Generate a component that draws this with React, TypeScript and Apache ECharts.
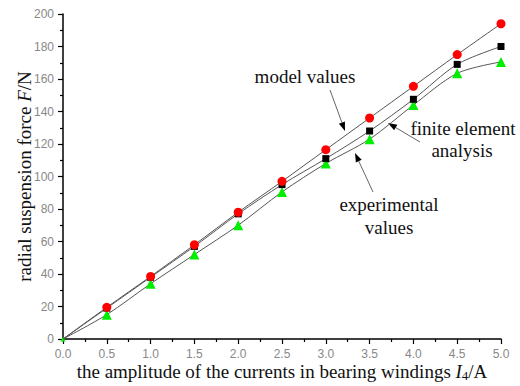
import React, { useEffect, useRef } from "react";
import * as echarts from "echarts";

const currents = [0, 0.5, 1.0, 1.5, 2.0, 2.5, 3.0, 3.5, 4.0, 4.5, 5.0];
const modelValues = [0, 19.5, 38.5, 58, 78, 97, 116.5, 136, 155.5, 175, 194];
const feaValues = [0, 19, 38, 57, 77, 95, 111, 128, 147.5, 169, 180];
const experimentalValues = [0, 15, 34, 52, 70, 90.5, 108, 123, 144, 163.5, 170.5];

const serif = "'Liberation Serif', 'Times New Roman', serif";
const sans = "'Liberation Sans', Arial, sans-serif";

function arrow(x1: number, y1: number, x2: number, y2: number) {
  const dx = x2 - x1, dy = y2 - y1;
  const len = Math.sqrt(dx * dx + dy * dy);
  const ux = dx / len, uy = dy / len;
  const L = 9, w = 3.2;
  const bx = x2 - ux * L, by = y2 - uy * L;
  return [
    { type: "line", shape: { x1, y1, x2: bx, y2: by }, style: { stroke: "#666", lineWidth: 1 }, silent: true },
    {
      type: "polygon",
      shape: { points: [[x2, y2], [bx - uy * w, by + ux * w], [bx + uy * w, by - ux * w]] },
      style: { fill: "#000" },
      silent: true,
    },
  ];
}

function label(text: string, x: number, y: number) {
  return {
    type: "text",
    x,
    y,
    style: { text, font: `19px ${serif}`, fill: "#111", textAlign: "center", textVerticalAlign: "middle" },
    silent: true,
  };
}

export default function App() {
  const ref = useRef<HTMLDivElement>(null);
  useEffect(() => {
    if (!ref.current) return;
    const chart = echarts.init(ref.current, undefined, { renderer: "svg" });
    const mk = (vals: number[]) => currents.map((c, i) => [c, vals[i]]);
    const lineStyle = { color: "#555", width: 1 };
    const sizeAt = (size: number, originSize: number) => (v: number[]) => (v[0] === 0 ? originSize : size);
    chart.setOption({
      animation: false,
      grid: { left: 63, right: 19, top: 14, bottom: 47, containLabel: false, outerBoundsMode: "none" },
      xAxis: {
        type: "value",
        min: 0,
        max: 5,
        interval: 0.5,
        splitLine: { show: false },
        axisLine: { lineStyle: { color: "#000", width: 1.5 } },
        axisTick: { length: 5, lineStyle: { color: "#000", width: 1.2 } },
        minorTick: { show: true, splitNumber: 2, length: 3, lineStyle: { color: "#000", width: 1.2 } },
        axisLabel: { color: "#888", fontFamily: sans, fontSize: 12, margin: 9, formatter: (v: number) => v.toFixed(1) },
        name: "{a|the amplitude of the currents in bearing windings }{i|I}{s|4}{a|/A}",
        nameLocation: "middle",
        nameGap: 21,
        nameMoveOverlap: false,
        nameTextStyle: {
          rich: {
            a: { fontFamily: serif, fontSize: 19, color: "#111" },
            i: { fontFamily: serif, fontSize: 19, fontStyle: "italic", color: "#111" },
            s: { fontFamily: serif, fontSize: 13, color: "#111", padding: [9, 0, 0, 0] },
          },
        },
      },
      yAxis: {
        type: "value",
        min: 0,
        max: 200,
        interval: 20,
        splitLine: { show: false },
        axisLine: { show: true, lineStyle: { color: "#000", width: 1.5 } },
        axisTick: { show: true, length: 5, lineStyle: { color: "#000", width: 1.2 } },
        minorTick: { show: true, splitNumber: 2, length: 3, lineStyle: { color: "#000", width: 1.2 } },
        axisLabel: { color: "#888", fontFamily: sans, fontSize: 12, margin: 9 },
        name: "{a|radial suspension force }{i|F}{a|/N}",
        nameLocation: "middle",
        nameGap: 29,
        nameMoveOverlap: false,
        nameTextStyle: {
          rich: {
            a: { fontFamily: serif, fontSize: 19, color: "#111" },
            i: { fontFamily: serif, fontSize: 19, fontStyle: "italic", color: "#111" },
          },
        },
      },
      series: [
        {
          name: "experimental values",
          type: "line",
          smooth: 0.3,
          data: mk(experimentalValues),
          symbol: "triangle",
          symbolSize: sizeAt(10, 5),
          itemStyle: { color: "#00ee00" },
          lineStyle,
          z: 2,
        },
        {
          name: "finite element analysis",
          type: "line",
          smooth: 0.3,
          data: mk(feaValues),
          symbol: "rect",
          symbolSize: sizeAt(7, 0),
          itemStyle: { color: "#000" },
          lineStyle,
          z: 3,
        },
        {
          name: "model values",
          type: "line",
          smooth: 0.3,
          data: mk(modelValues),
          symbol: "circle",
          symbolSize: sizeAt(9, 0),
          itemStyle: { color: "#ff0000" },
          lineStyle,
          z: 4,
        },
      ],
      graphic: [
        label("model values", 305, 76),
        ...arrow(330, 90, 345, 131),
        label("finite element", 463, 128),
        label("analysis", 462, 150),
        ...arrow(420, 142, 388, 123),
        label("experimental", 389, 204),
        label("values", 389, 227),
        ...arrow(373, 192, 355, 153),
      ],
    });
    return () => chart.dispose();
  }, []);
  return <div ref={ref} style={{ width: 520, height: 386, position: "absolute", left: 0, top: 0 }} />;
}
